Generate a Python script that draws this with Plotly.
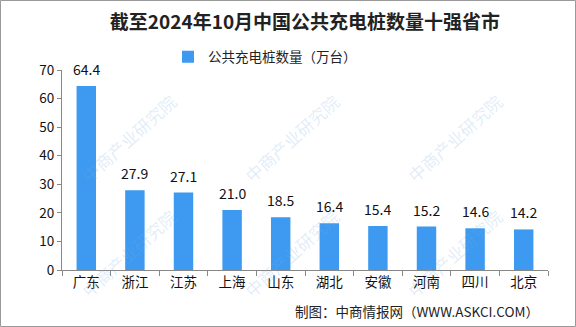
import plotly.graph_objects as go

categories = ["广东", "浙江", "江苏", "上海", "山东", "湖北", "安徽", "河南", "四川", "北京"]
values = [64.4, 27.9, 27.1, 21.0, 18.5, 16.4, 15.4, 15.2, 14.6, 14.2]
series_name = "公共充电桩数量（万台）"
title_text = "截至2024年10月中国公共充电桩数量十强省市"
footer_text = "制图：中商情报网（WWW.ASKCI.COM）"
watermark_text = "中商产业研究院"
y_ticks = [0, 10, 20, 30, 40, 50, 60, 70]

W, H = 576, 327
ML, MR, MT, MB = 62, 28, 70, 57
PW, PH = W - ML - MR, H - MT - MB

def px(x):
    return (x - ML) / PW

def py(y):
    return (H - MB - y) / PH

FONT = "Noto Sans CJK SC"

fig = go.Figure()
fig.add_trace(go.Bar(
    x=categories, y=values, name=series_name,
    marker=dict(color="#3d9af0", line=dict(width=0)),
    width=0.4,
))

annotations = []
# faint watermarks
for cy in [138, 253]:
    for cx in [128, 291, 454]:
        annotations.append(dict(
            x=px(cx), y=py(cy), xref="paper", yref="paper",
            text=watermark_text, showarrow=False, textangle=-42,
            font=dict(family=FONT, size=17, color="rgba(120,170,225,0.22)"),
            xanchor="center", yanchor="middle",
        ))

# value labels
for c, v in zip(categories, values):
    annotations.append(dict(
        x=c, y=v, xref="x", yref="y", text=f"{v:.1f}", showarrow=False,
        yanchor="bottom", yshift=5,
        font=dict(family=FONT, size=14, color="#111"),
    ))

annotations.append(dict(
    x=px(541), y=py(311), xref="paper", yref="paper", text=footer_text,
    showarrow=False, xanchor="right", yanchor="middle",
    font=dict(family=FONT, size=13.5, color="#222"),
))

fig.update_layout(
    width=W, height=H,
    margin=dict(l=ML, r=MR, t=MT, b=MB),
    paper_bgcolor="white", plot_bgcolor="rgba(0,0,0,0)",
    title=dict(text=f"<b>{title_text}</b>", x=0.5, xref="paper", y=1 - 22 / H, yanchor="middle",
               font=dict(family=FONT, size=19, color="#222")),
    showlegend=True,
    legend=dict(orientation="h", x=px(168), xref="paper", xanchor="left", y=py(57), yanchor="middle",
                font=dict(family=FONT, size=13.5, color="#222"), bgcolor="rgba(0,0,0,0)"),
    xaxis=dict(showline=True, linecolor="#888", linewidth=1, ticks="outside", tickson="boundaries",
               ticklen=5, tickcolor="#888", tickfont=dict(family=FONT, size=13.5, color="#111"),
               showgrid=False, fixedrange=True),
    yaxis=dict(range=[0, 70], tickvals=y_ticks, showline=True, linecolor="#888", linewidth=1,
               ticks="outside", ticklen=4, tickcolor="#888", showgrid=False, zeroline=False,
               tickfont=dict(family=FONT, size=13.5, color="#111")),
    annotations=annotations,
    shapes=[dict(type="rect", xref="paper", yref="paper",
                 x0=px(0.5), x1=px(575.5), y0=py(326.5), y1=py(0.5),
                 line=dict(color="#999", width=1), layer="above")],
)

fig.write_html("out.html")
